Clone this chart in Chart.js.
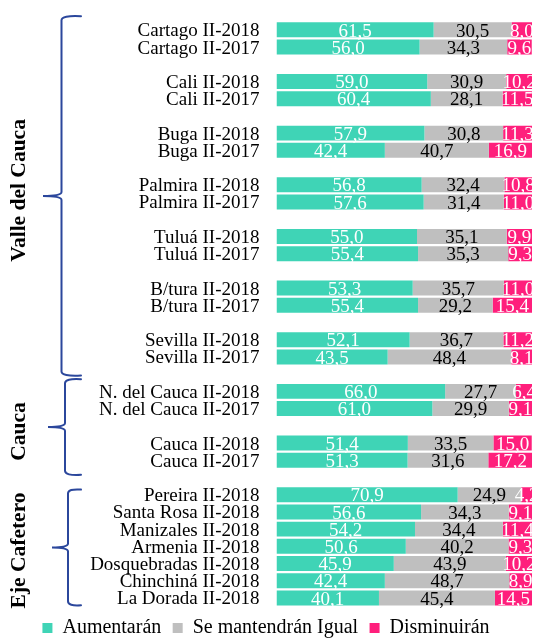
<!DOCTYPE html>
<html>
<head>
<meta charset="utf-8">
<script src="https://cdn.jsdelivr.net/npm/chart.js@4/dist/chart.umd.min.js"></script>
<style>
  html, body { margin: 0; padding: 0; background: #fff; }
  #wrap { width: 533px; height: 638px; }
</style>
</head>
<body>
<div id="wrap"><canvas id="chart"></canvas></div>
<script>
// '' rows are the empty spacer slots between pairs
const categories = [
  'Cartago II-2018', 'Cartago II-2017', '',
  'Cali II-2018', 'Cali II-2017', '',
  'Buga II-2018', 'Buga II-2017', '',
  'Palmira II-2018', 'Palmira II-2017', '',
  'Tuluá II-2018', 'Tuluá II-2017', '',
  'B/tura II-2018', 'B/tura II-2017', '',
  'Sevilla II-2018', 'Sevilla II-2017', '',
  'N. del Cauca II-2018', 'N. del Cauca II-2017', '',
  'Cauca II-2018', 'Cauca II-2017', '',
  'Pereira II-2018', 'Santa Rosa II-2018', 'Manizales II-2018', 'Armenia II-2018',
  'Dosquebradas II-2018', 'Chinchiná II-2018', 'La Dorada II-2018'
];

const aumentaran = [
  61.5, 56.0, null, 59.0, 60.4, null, 57.9, 42.4, null, 56.8, 57.6, null,
  55.0, 55.4, null, 53.3, 55.4, null, 52.1, 43.5, null,
  66.0, 61.0, null, 51.4, 51.3, null,
  70.9, 56.6, 54.2, 50.6, 45.9, 42.4, 40.1
];
const igual = [
  30.5, 34.3, null, 30.9, 28.1, null, 30.8, 40.7, null, 32.4, 31.4, null,
  35.1, 35.3, null, 35.7, 29.2, null, 36.7, 48.4, null,
  27.7, 29.9, null, 33.5, 31.6, null,
  24.9, 34.3, 34.4, 40.2, 43.9, 48.7, 45.4
];
const disminuiran = [
  8.0, 9.6, null, 10.2, 11.5, null, 11.3, 16.9, null, 10.8, 11.0, null,
  9.9, 9.3, null, 11.0, 15.4, null, 11.2, 8.1, null,
  6.4, 9.1, null, 15.0, 17.2, null,
  4.2, 9.1, 11.4, 9.3, 10.2, 8.9, 14.5
];

const seriesNames = ['Aumentarán', 'Se mantendrán Igual', 'Disminuirán'];

// group braces: first and last category index of each region
const groupNames = ['Valle del Cauca', 'Cauca', 'Eje Cafetero'];
const groupFrom = [0, 21, 27];
const groupTo = [19, 25, 33];

const FONT = '"Liberation Serif", serif';
const braceColor = '#2B479C';
const braceX = [61.5, 65, 68];
const tipX = [43, 48, 52];
const braceTopOff = [-5, -3.5, 3.5];
const braceBotOff = [10, 6, -1.3];
const nameOff = [-5.5, 4.5, 3];

const valueLabels = {
  id: 'valueLabels',
  afterDatasetsDraw(chart) {
    const ctx = chart.ctx;
    ctx.save();
    ctx.font = '19px ' + FONT;
    ctx.textAlign = 'center';
    ctx.textBaseline = 'alphabetic';
    chart.data.datasets.forEach((ds, di) => {
      const meta = chart.getDatasetMeta(di);
      meta.data.forEach((bar, i) => {
        const v = ds.data[i];
        if (v == null) return;
        const left = Math.min(bar.x, bar.base);
        const right = Math.max(bar.x, bar.base);
        ctx.fillStyle = di === 1 ? '#000' : '#fff';
        ctx.fillText(v.toFixed(1).replace('.', ','), (left + right) / 2, bar.y + 6.7);
      });
    });
    ctx.restore();
  }
};

const braces = {
  id: 'braces',
  afterDraw(chart) {
    const ctx = chart.ctx;
    const y = chart.scales.y;
    const half = (y.getPixelForValue(1) - y.getPixelForValue(0)) / 2;
    ctx.save();
    groupNames.forEach((name, g) => {
      const top = y.getPixelForValue(groupFrom[g]) - half + braceTopOff[g];
      const bot = y.getPixelForValue(groupTo[g]) + half + braceBotOff[g];
      const mid = (top + bot) / 2;
      const x = braceX[g], tx = tipX[g], ex = 81, r = 4;
      ctx.strokeStyle = braceColor;
      ctx.lineWidth = 2;
      ctx.lineCap = 'round';
      ctx.beginPath();
      ctx.moveTo(ex, top);
      ctx.quadraticCurveTo(x, top - 1, x, top + r);
      ctx.lineTo(x, mid - r);
      ctx.quadraticCurveTo(x, mid, tx, mid);
      ctx.quadraticCurveTo(x, mid, x, mid + r);
      ctx.lineTo(x, bot - r);
      ctx.quadraticCurveTo(x, bot + 1, ex, bot);
      ctx.stroke();

      ctx.save();
      ctx.translate(25, mid + nameOff[g]);
      ctx.rotate(-Math.PI / 2);
      ctx.fillStyle = '#000';
      ctx.font = 'bold 21.5px ' + FONT;
      ctx.textAlign = 'center';
      ctx.textBaseline = 'alphabetic';
      ctx.fillText(name, 0, 0);
      ctx.restore();
    });
    ctx.restore();
  }
};

new Chart(document.getElementById('chart'), {
  type: 'bar',
  data: {
    labels: categories,
    datasets: [
      { label: seriesNames[0], data: aumentaran, backgroundColor: '#3FD4B6' },
      { label: seriesNames[1], data: igual, backgroundColor: '#BFBFBF' },
      { label: seriesNames[2], data: disminuiran, backgroundColor: '#FF1F7C' }
    ]
  },
  options: {
    indexAxis: 'y',
    responsive: true,
    maintainAspectRatio: false,
    animation: false,
    datasets: { bar: { barPercentage: 0.87, categoryPercentage: 1 } },
    // negative bottom pushes the legend row down to the picture's edge
    layout: { padding: { top: 21.2, right: 1, left: 0, bottom: -10 } },
    scales: {
      x: { stacked: true, min: 0, max: 100, display: false },
      y: {
        stacked: true,
        grid: { display: false, drawTicks: false },
        border: { display: false },
        ticks: { color: '#000', padding: 17, labelOffset: 1.5, autoSkip: false, font: { family: FONT, size: 19 } },
        afterFit(scale) {
          scale.width = 276.5;
          scale.paddingTop = 0;
          scale.paddingBottom = 0;
        }
      }
    },
    plugins: {
      legend: {
        position: 'bottom',
        labels: {
          color: '#000',
          boxWidth: 10,
          boxHeight: 10,
          padding: 11.4,
          font: { family: FONT, size: 20 }
        }
      },
      tooltip: { enabled: false }
    }
  },
  plugins: [valueLabels, braces]
});
</script>
</body>
</html>
